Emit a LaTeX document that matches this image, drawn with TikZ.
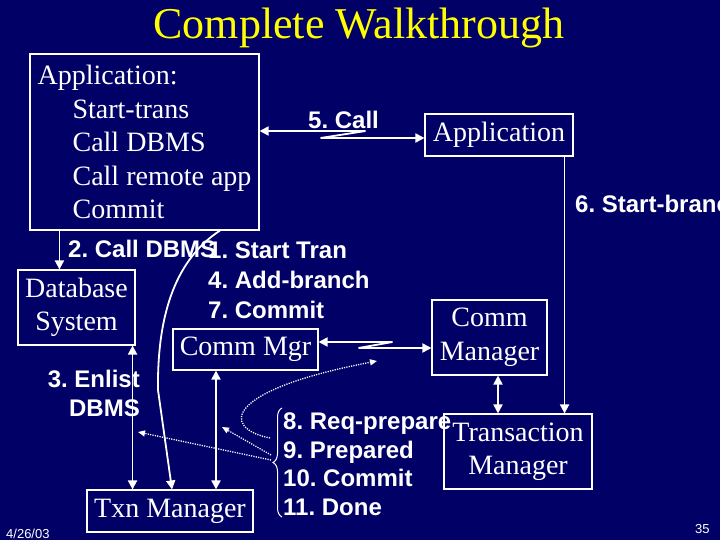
\documentclass[tikz,border=0pt]{standalone}
\usepackage{fontspec}
\setmainfont{Liberation Serif}
\setsansfont{Liberation Sans}
\usepackage{tikz}
\usetikzlibrary{arrows.meta, calc, decorations.pathreplacing}
\definecolor{cnavy}{RGB}{0,0,102}
\definecolor{cyellow}{RGB}{255,255,0}
\frenchspacing

\begin{document}
\begin{tikzpicture}[
    x=1pt, y=-1pt,
    every node/.style={text=white, inner sep=0pt},
    box/.style={draw=white, line width=1.1pt, align=center, font=\fontsize{28}{33.5}\selectfont},
    lbl/.style={font=\sffamily\bfseries\fontsize{24}{29}\selectfont},
    >={Triangle[length=9pt, width=9pt]},
    link/.style={white, line width=1.8pt},
    dlink/.style={white, line width=1.3pt, dash pattern=on 1.2pt off 1.2pt, -{Triangle[length=7pt, width=6pt]}},
]
    % Slide
    \useasboundingbox (0,0) rectangle (720,540);
    \fill[cnavy] (0,0) rectangle (720,540);
    \node[font=\fontsize{44}{50}\selectfont, text=cyellow, anchor=base] (title) at (359,39) {Complete Walkthrough};

    % Boxes
    \node[box, align=left, minimum width=229pt, minimum height=176pt] (app) at (144.5,142)
        {Application:\\ \hspace*{35pt}Start-trans\\ \hspace*{35pt}Call DBMS\\ \hspace*{35pt}Call remote app\\ \hspace*{35pt}Commit};
    \node[box, minimum width=148pt, minimum height=42pt] (rapp) at (499,135) {Application};
    \node[box, minimum width=117pt, minimum height=75pt] (dbms) at (76.5,307.5) {Database\\System};
    \node[box, minimum width=145pt, minimum height=41pt] (cmgr) at (245.5,349.5) {Comm Mgr};
    \node[box, minimum width=115pt, minimum height=75pt] (cman) at (489.5,337.5) {Comm\\Manager};
    \node[box, minimum width=148pt, minimum height=75pt] (tman) at (518,451.5) {Transaction\\Manager};
    \node[box, minimum width=166pt, minimum height=42pt] (txn) at (170,511) {Txn Manager};

    % Step labels
    \node[lbl, anchor=base west] (call5) at (308,129) {5. Call};
    \node[lbl, anchor=base west] (sbranch) at (575,213) {6. Start-branch};
    \node[lbl, anchor=base west] (calldb) at (68,258) {2. Call DBMS};
    \node[lbl, font=\sffamily\bfseries\fontsize{24}{30}\selectfont, anchor=west, align=left] (tmcalls) at (208,280)
        {1. Start Tran\\4. Add-branch\\7. Commit};
    \node[lbl, font=\sffamily\bfseries\fontsize{24}{28.5}\selectfont, anchor=east, align=right] (enlist) at (140,393.5)
        {3. Enlist\\DBMS};
    \node[lbl, font=\sffamily\bfseries\fontsize{24}{28.5}\selectfont, anchor=west, align=left] (twopc) at (283,464)
        {8. Req-prepare\\9. Prepared\\10. Commit\\11. Done};

    % Footer
    \node[font=\sffamily\fontsize{13}{15}\selectfont, anchor=base west] (date) at (6,538) {4/26/03};
    \node[font=\sffamily\fontsize{13}{15}\selectfont, anchor=base west] (pnum) at (695,533) {35};

    % Remote calls (lightning links)
    \draw[link, <->] ([yshift=11pt]app.east) -- ++(106,0) -- ++(-45,7) -- ([yshift=-3pt]rapp.west);
    \draw[link, <->] ([yshift=7.5pt]cmgr.east) -- ++(74,0) -- ++(-34,6) -- ([yshift=-10.5pt]cman.west);

    % Local calls
    \coordinate (appdb) at ([xshift=30pt]app.south west);
    \coordinate (appcurve) at ([xshift=75.5pt]app.south);
    \coordinate (dbtx) at ([xshift=-3pt]dbms.south east);
    \coordinate (cmtx) at ([xshift=-29.5pt]cmgr.south);
    \coordinate (cmtm) at ([xshift=8.5pt]cman.south);
    \coordinate (ratm) at ([xshift=-9pt]rapp.south east);
    \draw[link, ->] (appdb) -- (appdb |- dbms.north);
    \draw[link, ->] (appcurve) .. controls (178,258) and (157,310) .. (158,390) -- ([xshift=2pt]txn.north);
    \draw[link, <->] (dbtx) -- (dbtx |- txn.north);
    \draw[link, <->] (cmtx) -- (cmtx |- txn.north);
    \draw[link, <->] (cmtm) -- (cmtm |- tman.north);
    \draw[link, ->] (ratm) -- (ratm |- tman.north);

    % Two-phase commit messages
    \draw[white, line width=1pt, decorate, decoration={brace, amplitude=9pt}] (282,517) -- (282,408);
    \coordinate (btip) at (271,460);
    \coordinate (bupper) at (270,438);
    \coordinate (dbpt) at (138,432);
    \coordinate (txpt) at (222,427);
    \coordinate (cmpt) at (377,361);
    \draw[dlink] (btip) -- (dbpt);
    \draw[dlink] ([yshift=5pt]btip) -- (txpt);
    \draw[dlink] (bupper) .. controls (220,428) and (225,390) .. (cmpt);
\end{tikzpicture}
\end{document}
